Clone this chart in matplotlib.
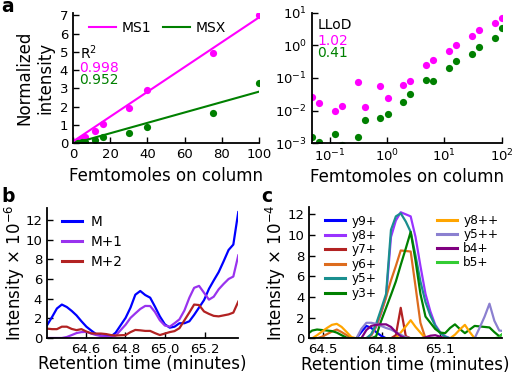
import matplotlib
matplotlib.use('Agg')
import matplotlib.pyplot as plt

plt.rcParams['font.family'] = ['DejaVu Sans']
plt.rcParams['mathtext.fontset'] = 'dejavusans'

# ---------------- panel a ----------------
fmol = [0.049, 0.066, 0.123, 0.164, 0.307, 0.410, 0.768, 1.024, 1.92, 2.56,
        4.8, 6.4, 12, 16, 30, 40, 75, 100]
ms1 = [0.027, 0.017, 0.0098, 0.014, 0.074, 0.0125, 0.056, 0.025, 0.062, 0.08,
       0.245, 0.36, 0.66, 1.06, 1.95, 2.9, 4.95, 7.05]
msx = [0.0016, 0.0011, 0.0019, 0.00087, 0.0016, 0.005, 0.0061, 0.0078, 0.0185, 0.032,
       0.088, 0.083, 0.2, 0.34, 0.56, 0.87, 1.66, 3.3]
ms1_fit = (0.068, 0.10)    # slope, intercept
msx_fit = (0.0285, -0.02)
r2_vals = ['0.998', '0.952']
llod_vals = ['1.02', '0.41']

# ---------------- panel b ----------------
time_b = [64.405, 64.430, 64.454, 64.479, 64.504, 64.529, 64.553, 64.578, 64.603, 64.628,
          64.652, 64.677, 64.702, 64.727, 64.751, 64.776, 64.801, 64.826, 64.850, 64.875,
          64.900, 64.925, 64.949, 64.974, 64.999, 65.024, 65.048, 65.073, 65.098, 65.123,
          65.147, 65.172, 65.197, 65.222, 65.246, 65.271, 65.296, 65.321, 65.345, 65.370]
m0 = [1.32, 2.15, 3.0, 3.4, 3.15, 2.75, 2.3, 1.7, 1.15, 0.75,
      0.4, 0.27, 0.22, 0.15, 0.55, 1.3, 2.05, 3.1, 4.4, 4.78,
      4.37, 4.1, 3.2, 2.2, 1.4, 1.05, 1.15, 1.5, 1.5, 1.7,
      2.35, 3.1, 3.85, 5.0, 5.85, 6.7, 7.8, 8.95, 9.5, 12.8]
m1 = [0.0, 0.0, 0.0, 0.0, 0.1, 0.3, 0.5, 0.6, 0.62, 0.45,
      0.3, 0.2, 0.15, 0.12, 0.25, 0.8, 1.35, 2.05, 2.5, 2.95,
      3.26, 3.25, 2.65, 1.8, 1.27, 1.15, 1.5, 1.9, 2.8, 4.1,
      5.1, 5.3, 4.6, 3.9, 4.2, 4.95, 5.5, 6.0, 6.25, 8.4]
m2 = [0.95, 0.9, 0.9, 1.15, 1.15, 0.92, 0.8, 0.9, 0.65, 0.47,
      0.45, 0.45, 0.4, 0.3, 0.25, 0.28, 0.3, 0.6, 0.82, 0.78,
      0.72, 0.72, 0.5, 0.3, 0.45, 0.6, 0.7, 1.0, 1.8, 2.6,
      3.4, 3.35, 2.7, 2.45, 2.25, 2.2, 2.3, 2.4, 2.58, 3.7]
b_labels = ['M', 'M+1', 'M+2']

# ---------------- panel c ----------------
time_c = [64.418, 64.443, 64.468, 64.493, 64.519, 64.544, 64.569, 64.594, 64.620, 64.645,
          64.670, 64.695, 64.721, 64.746, 64.771, 64.796, 64.822, 64.847, 64.872, 64.897,
          64.923, 64.948, 64.973, 64.998, 65.024, 65.049, 65.074, 65.099, 65.125, 65.150,
          65.175, 65.200, 65.226, 65.251, 65.276, 65.301, 65.327, 65.352, 65.377, 65.402,
          65.428]
y9p = [0]*11 + [0.6, 1.2, 1.0, 0.6, 0.25] + [0]*25
y8p = [0]*13 + [0.3, 1.1, 2.4, 4.0, 9.8, 11.4, 12.2, 12.0, 11.8, 9.8,
                7.0, 4.3, 2.6, 1.3, 0.6, 0.2] + [0]*12
y7p = [0]*18 + [0.3, 2.95, 0.2] + [0]*20
y6p = [0, 0, 0, 0.15, 0.4, 0.65, 0.85, 0.6, 0.3, 0.05,
       0, 0, 0, 0.3, 1.2, 2.5, 4.0, 5.6, 7.0, 8.5,
       8.45, 8.4, 5.0, 1.5] + [0]*17
y5p = [0]*13 + [0.4, 1.4, 2.8, 4.3, 10.5, 11.8, 12.1, 11.3, 10.3, 8.0,
                5.5, 3.5, 2.2, 1.2, 0.5, 0.15] + [0]*12
y3p = [0.4, 0.75, 0.85, 0.8, 0.75, 0.7, 0.55, 0.3, 0.05, 0,
       0, 0, 0, 0, 0.2, 1.65, 2.95, 4.2, 5.5, 7.1,
       8.7, 10.3, 7.5, 4.3, 2.1, 1.5, 0.9, 0.55, 0.5, 1.0,
       1.35, 0.9, 0.5, 0.85, 1.2, 1.15, 1.1, 1.05, 0.6, 0.2,
       0.5]
y8pp = [0, 0, 0.3, 0.65, 1.0, 1.3, 1.4, 1.1, 0.6, 0.1] + [0]*8 + \
       [0, 0.55, 1.15, 1.75, 1.1, 0.55, 0] + [0]*5 + \
       [0.35, 0.85, 1.3, 0.6, 0] + [0]*6
y5pp = [0]*11 + [0.9, 1.5, 1.5, 1.4, 1.2, 1.0, 0.85, 0.6, 0.35, 0.1] + [0]*14 + \
       [1.0, 2.1, 3.35, 1.7, 0.75, 0.7]
b4p = [0]*12 + [0.8, 1.2, 1.3, 1.35, 1.35, 1.1, 0.6, 0.2] + [0]*4 + \
      [0.1, 0.25, 0.3, 0.15] + [0]*13
b5p = [0]*39 + [0.1, 0.6]
c_left_labels = ['y9+', 'y8+', 'y7+', 'y6+', 'y5+', 'y3+']
c_right_labels = ['y8++', 'y5++', 'b4+', 'b5+']

c_left_colors = ['#0000ff', '#9933ff', '#b22222', '#dd6c1e', '#1a8f8f', '#008000']
c_right_colors = ['#ffa500', '#8b80d0', '#800080', '#33cc33']
b_colors = ['#0000ff', '#9933ee', '#b22222']
MAG = '#ff00ff'
GRN = '#008000'

fig = plt.figure(figsize=(5.12, 3.72), dpi=100)

TICK = 9.5
LAB = 12


def style(ax):
    for s in ['top', 'right']:
        ax.spines[s].set_visible(False)
    for s in ['left', 'bottom']:
        ax.spines[s].set_linewidth(1.3)
    ax.tick_params(direction='in', length=4, width=1, labelsize=TICK)
    ax.tick_params(which='minor', length=0)


# ---- a left
axa = fig.add_axes([0.1426, 0.6148, 0.3637, 0.3511])
style(axa)
axa.plot(fmol, ms1, 'o', color=MAG, ms=5.2, mec='none')
axa.plot(fmol, msx, 'o', color=GRN, ms=5.2, mec='none')
fx = [0, 100]
axa.plot(fx, [ms1_fit[0]*x + ms1_fit[1] for x in fx], color=MAG, lw=1.5, label='MS1')
axa.plot(fx, [msx_fit[0]*x + msx_fit[1] for x in fx], color=GRN, lw=1.5, label='MSX')
axa.set_xlim(0, 100)
axa.set_ylim(0, 7.15)
axa.set_xticks([0, 20, 40, 60, 80, 100])
axa.set_yticks(range(8))
axa.set_xlabel('Femtomoles on column', fontsize=LAB, labelpad=4)
axa.set_ylabel('Normalized\nintensity', fontsize=LAB, labelpad=4)
h = axa.get_lines()[2:]
leg = axa.legend(h, ['MS1', 'MSX'], ncol=2, frameon=False, loc='center left',
                 bbox_to_anchor=(0.087, 0.883), borderpad=0, borderaxespad=0,
                 handlelength=1.9, handletextpad=0.4, columnspacing=0.9, fontsize=10)
axa.text(0.035, 0.69, r'R$^2$', transform=axa.transAxes, fontsize=10, va='center')
axa.text(0.035, 0.577, r2_vals[0], transform=axa.transAxes, fontsize=10, va='center', color=MAG)
axa.text(0.035, 0.485, r2_vals[1], transform=axa.transAxes, fontsize=10, va='center', color=GRN)

# ---- a right
axl = fig.add_axes([0.609, 0.6148, 0.371, 0.3511])
style(axl)
axl.plot(fmol, ms1, 'o', color=MAG, ms=5.2, mec='none')
axl.plot(fmol, msx, 'o', color=GRN, ms=5.2, mec='none')
axl.set_xscale('log')
axl.set_yscale('log')
axl.set_xlim(0.049, 100)
axl.set_ylim(1e-3, 10)
axl.minorticks_off()
axl.set_xlabel('Femtomoles on column', fontsize=LAB, labelpad=2)
axl.text(0.03, 0.906, 'LLoD', transform=axl.transAxes, fontsize=10, va='center')
axl.text(0.03, 0.786, llod_vals[0], transform=axl.transAxes, fontsize=10, va='center', color=MAG)
axl.text(0.03, 0.689, llod_vals[1], transform=axl.transAxes, fontsize=10, va='center', color=GRN)

# ---- b
axb = fig.add_axes([0.0918, 0.0914, 0.3732, 0.3503])
style(axb)
for vals, c, lab in zip([m0, m1, m2], b_colors, b_labels):
    axb.plot(time_b, vals, color=c, lw=1.6, label=lab)
axb.set_xlim(64.404, 65.369)
axb.set_ylim(0, 13.25)
axb.set_xticks([64.6, 64.8, 65.0, 65.2])
axb.set_yticks([0, 2, 4, 6, 8, 10, 12])
axb.set_xlabel('Retention time (minutes)', fontsize=LAB, labelpad=-0.3)
axb.set_ylabel(r'Intensity $\times$ 10$^{-6}$', fontsize=LAB, labelpad=-1.0)
lg = axb.legend(frameon=False, loc='upper left', bbox_to_anchor=(0.077, 0.945),
                borderpad=0, borderaxespad=0, handlelength=1.5, handletextpad=0.6,
                labelspacing=0.45, fontsize=9.8)
for ln in lg.get_lines():
    ln.set_linewidth(2.2)

# ---- c
axc = fig.add_axes([0.604, 0.0906, 0.376, 0.3538])
style(axc)
left_series = [y9p, y8p, y7p, y6p, y5p, y3p]
right_series = [y8pp, y5pp, b4p, b5p]
hl = []
for vals, c, lab in zip(left_series, c_left_colors, c_left_labels):
    hl += axc.plot(time_c, vals, color=c, lw=1.6, label=lab)
hr = []
for vals, c, lab in zip(right_series, c_right_colors, c_right_labels):
    hr += axc.plot(time_c, vals, color=c, lw=1.6, label=lab)
axc.set_xlim(64.428, 65.415)
axc.set_ylim(0, 12.74)
axc.set_xticks([64.5, 64.8, 65.1])
axc.set_yticks([0, 2, 4, 6, 8, 10, 12])
axc.set_xlabel('Retention time (minutes)', fontsize=LAB, labelpad=-0.3)
axc.set_ylabel(r'Intensity $\times$ 10$^{-4}$', fontsize=LAB, labelpad=-0.5)
lg1 = axc.legend(hl, c_left_labels, frameon=False, loc='upper left',
                 bbox_to_anchor=(0.0816, 0.94), borderpad=0, borderaxespad=0,
                 handlelength=1.65, handletextpad=0.55, labelspacing=0.12, fontsize=8.7)
axc.add_artist(lg1)
lg2 = axc.legend(hr, c_right_labels, frameon=False, loc='upper left',
                 bbox_to_anchor=(0.662, 0.945), borderpad=0, borderaxespad=0,
                 handlelength=1.65, handletextpad=0.55, labelspacing=0.08, fontsize=8.7)
for L in (lg1, lg2):
    for ln in L.get_lines():
        ln.set_linewidth(2.2)

# panel letters
fig.text(0.002, 0.968, 'a', fontsize=13.5, weight='bold')
fig.text(0.002, 0.457, 'b', fontsize=13.5, weight='bold')
fig.text(0.510, 0.457, 'c', fontsize=13.5, weight='bold')

fig.savefig('out.png', dpi=100)
